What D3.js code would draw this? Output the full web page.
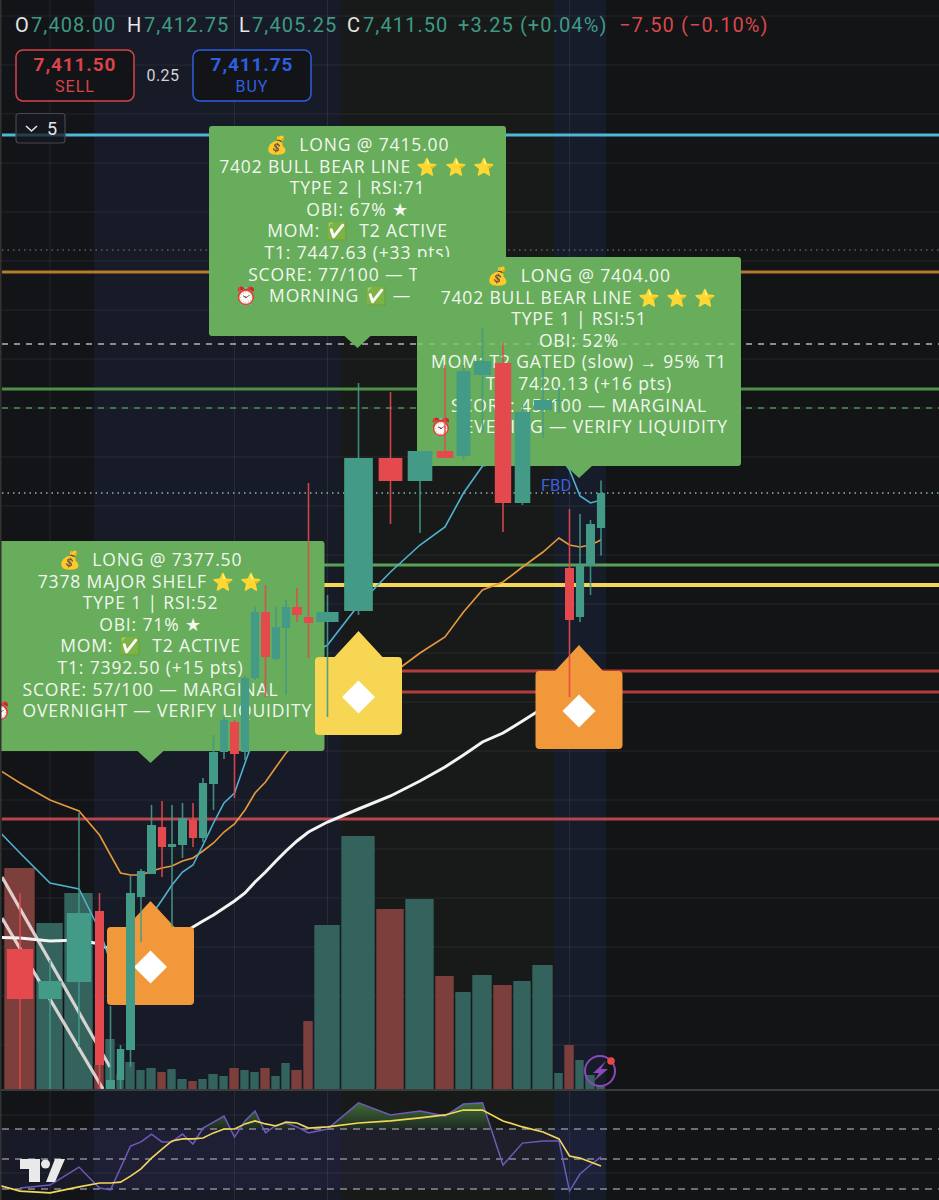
<!DOCTYPE html>
<html><head><meta charset="utf-8">
<script src="https://cdn.jsdelivr.net/npm/d3@7"></script>
<style>
html,body{margin:0;padding:0;background:#131416;}
svg{display:block;}
text{font-family:Roboto,"Noto Sans","DejaVu Sans",sans-serif;white-space:pre;}
</style></head><body><svg id="c" width="939" height="1200"></svg>
<script>
// ---------- data ----------
const priorBarDuration = 28;
const durations = [32,28,30,11,11,9,11,10,11,10,10,11,10,10,11,10,11,10,10,11,10,10,12,11,27,35,29,30,20,17,21,20,19,22,10,11,10,11,10];
const opens  = [7365.9,7360.9,7362.6,7369.7,7351.9,7352.8,7355.8,7371.1,7373.4,7378.1,7376.1,7376.3,7378.8,7377,7382.4,7385.6,7388.6,7385.6,7393,7399.6,7394.9,7398,7400.1,7399.1,7398.6,7399.7,7415,7412.7,7415.7,7415.2,7423.3,7424.5,7410.5,7419.8,7420.7,7404,7399.1,7404.2,7408];
const highs  = [7371.5,7364.8,7379.5,7371.5,7360.2,7356.3,7373.3,7373.9,7380.3,7380.7,7380.3,7380.5,7380.5,7383,7387.3,7389.3,7388.8,7393.2,7400.1,7402.3,7400.1,7400.8,7402,7412.5,7401.3,7422.5,7421.6,7415.7,7424.3,7424.3,7428,7426.5,7420.3,7424.1,7422.1,7409.9,7409.4,7408.8,7412.75];
const lows   = [7351.9,7351.9,7356.1,7351.9,7351.9,7351.9,7354.1,7366.6,7373.4,7373.1,7368.1,7375,7376.1,7376.6,7379.8,7384.9,7381,7384.8,7392.8,7391.1,7394.8,7391.3,7398.6,7395,7389.1,7399.3,7408.4,7407.5,7415,7414.8,7417.5,7407.6,7410.3,7417,7419.5,7391.1,7398.6,7401.3,7405.25];
const closes = [7360.9,7362.7,7369.5,7354.3,7352.8,7355.9,7371.5,7373.7,7378.3,7376.1,7376.4,7379,7377,7382.5,7385.6,7388.8,7385.4,7393,7399.6,7395.1,7398.1,7400.1,7399.3,7398.5,7399.6,7415,7412.7,7415.7,7415,7423.7,7424.7,7410.5,7419.6,7420.8,7420.8,7398.8,7404.3,7408.4,7411.5];
const volumes = [2210,1660,1960,240,500,150,270,190,210,170,200,100,80,100,150,130,210,190,170,210,130,260,190,680,1640,2530,1800,1900,1130,970,1140,1040,1080,1240,160,440,290,140,40];
// moving averages include the bar just left of the window
const emaFast = [7378.6,7375.5,7372.5,7371.9,7367.8,7364.6,7364.8,7366.3,7367.8,7369.3,7370.8,7372.3,7373.6,7374.3,7376.3,7378.5,7380.5,7381.5,7384.5,7387.3,7389.6,7391.8,7393.3,7394.4,7395.3,7396.3,7400.3,7403.6,7406.3,7408.1,7411.5,7414.2,7414.6,7415.8,7416.3,7415.3,7413.8,7411.2,7410.5,7410.8];
const emaMid  = [7384.4,7382.5,7380.8,7379.7,7377.3,7375.3,7373.5,7373.3,7373.3,7373.7,7374,7374.2,7374.7,7375,7375.7,7376.5,7377.6,7378.4,7379.8,7381.5,7382.6,7384.1,7385.5,7386.6,7387.8,7389.6,7391.8,7393.3,7395.5,7397.1,7399.6,7401.8,7402.6,7404.1,7405.6,7407,7406.3,7406.1,7406.3,7406.8];
const emaSlow = [7367.1,7367,7366.7,7366.8,7366.4,7365.8,7365.6,7365.6,7365.8,7366.1,7366.5,7367,7367.5,7368.1,7368.7,7369.3,7370,7370.7,7371.5,7372.6,7373.6,7374.7,7375.7,7376.7,7377.6,7378.6,7379.9,7381.2,7382.7,7384.1,7385.3,7386.6,7387.5,7388.7,7390,7390.8,7391.3,7391.8,7392.3,7392.8];
const rsi = [40.3,41.3,47.3,40.3,39.7,47,54.3,55.7,58.3,55.7,55.7,58.3,55,60.3,62.3,64.3,57.3,62.7,66,58.7,61.3,62,60.7,58.7,60,68.7,64.7,66,64.3,68.3,68.7,48,55.3,56,56,39.3,45,48,50.7];
const rsiMa = [42,39.3,38.7,40.7,42,42,42.3,44.3,46.7,50.3,53.3,56,56.7,56.7,57,58.7,60,60,61.7,62.7,61.7,61,62.3,62,60.3,60.7,62,62.7,63.7,64.7,66.3,66.3,62.7,60.7,59,56.7,51,50.3,49,47.7];
const rsiLevels = [60,50,40];
const trendLines = [[[26,7373.1],[134,7354.1]],[[26,7369],[127,7351.9]]];
const solidLevels = [[7447.3,"#4fb8d6",3],[7433.6,"#b67a2e",3],[7421.9,"#4f8f46",3],[7404.3,"#5aa257",3],[7402.3,"#f6d655",4],[7393.7,"#b53c3c",3],[7391.6,"#b53c3c",3],[7378.9,"#b6454c",3]];
const dashedLevels = [[7426.4,"#b4b4b4","6 6",1.5],[7420,"#4f8f5a","6 6",1.5],[7435.8,"#57635f","1.5 4",1.5],[7411.5,"#8fb5ad","1.5 4",1.5]];
const header = [["O","7,408.00",15,31],["H","7,412.75",127,144],["L","7,405.25",239,252],["C","7,411.50",347,363]];
const label1 = ["💰  LONG @ 7377.50","7378 MAJOR SHELF ⭐ ⭐","TYPE 1 | RSI:52","OBI: 71% ★","MOM: ✅  T2 ACTIVE","T1: 7392.50 (+15 pts)","SCORE: 57/100 — MARGINAL","⏰  OVERNIGHT — VERIFY LIQUIDITY"];
const label2 = ["💰  LONG @ 7415.00","7402 BULL BEAR LINE ⭐ ⭐ ⭐","TYPE 2 | RSI:71","OBI: 67% ★","MOM: ✅  T2 ACTIVE","T1: 7447.63 (+33 pts)","SCORE: 77/100 — TRADE","⏰  MORNING ✅ — LIQUID"];
const label3 = ["💰  LONG @ 7404.00","7402 BULL BEAR LINE ⭐ ⭐ ⭐","TYPE 1 | RSI:51","OBI: 52%","MOM: T2 GATED (slow) → 95% T1","T1: 7420.13 (+16 pts)","SCORE: 45/100 — MARGINAL","⏰  EVENING — VERIFY LIQUIDITY"];

// ---------- scales ----------
const W=939,H=1200,volBase=1089;
const svg=d3.select("#c");
const starts=[priorBarDuration]; durations.forEach(d=>starts.push(starts[starts.length-1]+d));
const total=starts[starts.length-1];
const x=d3.scaleLinear().domain([0,total]).range([-24,606]);
const centers=[priorBarDuration/2].concat(durations.map((d,i)=>starts[i]+d/2));
const y=d3.scaleLinear().domain([7460.8,7340.8]).range([0,1200]);
const yVol=d3.scaleLinear().domain([0,2530]).range([volBase,836]);
const yRsi=d3.scaleLinear().domain([60,40]).range([1129,1189]);
const up="#429a87",down="#e4494e";

const defs=svg.append("defs");
defs.append("clipPath").attr("id","main").append("rect").attr("x",2).attr("y",0).attr("width",W).attr("height",volBase);
defs.append("clipPath").attr("id","ob").append("rect").attr("x",0).attr("y",1090).attr("width",W).attr("height",yRsi(60)-1090);
const g=defs.append("linearGradient").attr("id","obg").attr("x1",0).attr("x2",0).attr("y1",0).attr("y2",1);
g.attr("gradientUnits","userSpaceOnUse").attr("y1",1103).attr("y2",1129);
g.append("stop").attr("offset",0).attr("stop-color","#3f6b35");
g.append("stop").attr("offset",1).attr("stop-color","#1e2a22");

// ---------- background ----------
svg.append("rect").attr("width",W).attr("height",H).attr("fill","#131416");
const sessions=[[0,3,"#121418"],[3,25,"#171a27"],[25,34,"#181a1a"],[34,39,"#161c2a"]];
sessions.forEach(([a,b,c])=>{
  const x0=a===0?0:x(starts[a]);
  svg.append("rect").attr("x",x0).attr("y",0).attr("width",x(starts[b])-x0).attr("height",H).attr("fill",c);
});
svg.append("rect").attr("x",0).attr("y",yRsi(60)).attr("width",x(total)).attr("height",yRsi(40)-yRsi(60)).attr("fill","rgba(110,100,230,0.08)");
const gridG=svg.append("g").attr("stroke","rgba(255,255,255,0.075)").attr("stroke-width",1);
d3.range(7380.8-4.9*5,7460,4.9).forEach(p=>gridG.append("line").attr("x1",0).attr("x2",W).attr("y1",y(p)).attr("y2",y(p)));
[1115,1173].forEach(v=>gridG.append("line").attr("x1",0).attr("x2",W).attr("y1",v).attr("y2",v));
[centers[2],centers[17],centers[25],centers[36]].forEach(c=>gridG.append("line").attr("x1",x(c)).attr("x2",x(c)).attr("y1",0).attr("y2",H));

// ---------- volume ----------
svg.append("g").selectAll("rect").data(volumes).join("rect")
 .attr("x",(d,i)=>x(starts[i])+0.3).attr("width",(d,i)=>durations[i]-1.6)
 .attr("y",d=>yVol(d)).attr("height",d=>volBase-yVol(d))
 .attr("fill",(d,i)=>closes[i]>=opens[i]?"#34625d":"#7c3f3b");

// ---------- levels, averages ----------
const mainG=svg.append("g").attr("clip-path","url(#main)");
const L=d3.line().x((d,i)=>x(centers[i])).y(d=>y(d));
solidLevels.forEach(([p,c,w])=>mainG.append("line").attr("x1",2).attr("x2",W).attr("y1",y(p)).attr("y2",y(p)).attr("stroke",c).attr("stroke-width",w));
dashedLevels.forEach(([p,c,da,w])=>mainG.append("line").attr("x1",2).attr("x2",W).attr("y1",y(p)).attr("y2",y(p)).attr("stroke",c).attr("stroke-width",w).attr("stroke-dasharray",da));
mainG.append("path").attr("d",L(emaSlow)).attr("fill","none").attr("stroke","#f4f4f4").attr("stroke-width",3);
mainG.append("path").attr("d",L(emaMid)).attr("fill","none").attr("stroke","#e79a3c").attr("stroke-width",1.6);
mainG.append("path").attr("d",L(emaFast)).attr("fill","none").attr("stroke","#4fb2d0").attr("stroke-width",1.6);

// ---------- labels ----------
function bubble(cx,tip,w,h,lines){
  const l=cx-w/2,r=cx+w/2,b=tip-12,t=b-h,rr=3;
  const gg=svg.append("g");
  gg.append("path").attr("d",`M${l+rr},${t}H${r-rr}Q${r},${t} ${r},${t+rr}V${b-rr}Q${r},${b} ${r-rr},${b}H${cx+13}L${cx},${tip}L${cx-13},${b}H${l+rr}Q${l},${b} ${l},${b-rr}V${t+rr}Q${l},${t} ${l+rr},${t}Z`).attr("fill","#67ad5b");
  lines.forEach((s,i)=>gg.append("text").attr("x",cx).attr("y",t+25+i*21.6).attr("text-anchor","middle").attr("fill","#f2f7ef").attr("font-size",17.5).attr("style","font-family:'Open Sans',Roboto,sans-serif").attr("letter-spacing",0.85).text(s));
}
bubble(x(centers[9])-1,y(7384.5),348,210,label1);
bubble(x(centers[26])-1,y(7426),297,210,label2);
bubble(x(centers[37])-1,y(7413),324,209,label3);

// the dashed level shows faintly through the last label
svg.append("line").attr("x1",417).attr("x2",741).attr("y1",y(7426.4)).attr("y2",y(7426.4)).attr("stroke","rgba(255,255,255,0.22)").attr("stroke-width",1.5).attr("stroke-dasharray","6 6");

// ---------- markers ----------
function house(cx,tipP,col){
  const tip=y(tipP),t=tip+26,bot=t+78,hw=43.5,r=4;
  const gg=svg.append("g");
  gg.append("path").attr("d",`M${cx-hw+r},${t}H${cx-24}L${cx},${tip}L${cx+24},${t}H${cx+hw-r}Q${cx+hw},${t} ${cx+hw},${t+r}V${bot-r}Q${cx+hw},${bot} ${cx+hw-r},${bot}H${cx-hw+r}Q${cx-hw},${bot} ${cx-hw},${bot-r}V${t+r}Q${cx-hw},${t} ${cx-hw+r},${t}Z`).attr("fill",col);
  const m=t+40,d=16.5;
  gg.append("path").attr("d",`M${cx},${m-d}L${cx+d},${m}L${cx},${m+d}L${cx-d},${m}Z`).attr("fill","#fff");
}
house(x(centers[9])-1,7370.7,"#f1993a");
house(x(centers[26]),7397.7,"#f7d654");
house(x(centers[37])-1,7396.3,"#f1993a");

// ---------- trend lines + candles ----------
const topG=svg.append("g").attr("clip-path","url(#main)");
trendLines.forEach(t=>topG.append("line").attr("x1",x(t[0][0])).attr("y1",y(t[0][1])).attr("x2",x(t[1][0])).attr("y2",y(t[1][1])).attr("stroke","rgba(245,232,232,0.85)").attr("stroke-width",3.2));
closes.forEach((c,i)=>{
  const o=opens[i],cx=x(starts[i]+durations[i]/2),col=c>=o?up:down,w=durations[i]*0.82;
  topG.append("line").attr("x1",cx).attr("x2",cx).attr("y1",y(highs[i])).attr("y2",y(lows[i])).attr("stroke",col).attr("stroke-width",1.6).attr("stroke-opacity",0.9);
  topG.append("rect").attr("x",cx-w/2).attr("width",w).attr("y",y(Math.max(o,c))).attr("height",Math.max(1,Math.abs(y(o)-y(c)))).attr("fill",col);
});
svg.append("text").attr("x",541).attr("y",491).attr("fill","#3d5fdc").attr("font-size",16.5).text("FBD");

// ---------- RSI ----------
svg.append("line").attr("x1",0).attr("x2",W).attr("y1",1090).attr("y2",1090).attr("stroke","#3a3b3d").attr("stroke-width",2);
const xi=(d,i)=>x(starts[i]+durations[i]/2);
svg.append("path").attr("clip-path","url(#ob)").attr("fill","url(#obg)")
  .attr("d",d3.area().x(xi).y0(yRsi(60)).y1(d=>yRsi(d))(rsi));
rsiLevels.forEach(v=>svg.append("line").attr("x1",2).attr("x2",W).attr("y1",yRsi(v)).attr("y2",yRsi(v)).attr("stroke","#8b8c96").attr("stroke-width",1.5).attr("stroke-dasharray","7 6"));
svg.append("path").attr("d",d3.line().x(xi).y(d=>yRsi(d))(rsi)).attr("fill","none").attr("stroke","#6a5cb8").attr("stroke-width",1.5);
svg.append("path").attr("d",d3.line().x((d,i)=>x(centers[i])).y(d=>yRsi(d))(rsiMa)).attr("fill","none").attr("stroke","#f3d75a").attr("stroke-width",1.6);

// logo
const logo=svg.append("g").attr("fill","#e9e9e9");
logo.append("path").attr("d","M20,1159H40V1182H29V1169H20Z");
logo.append("circle").attr("cx",45.5).attr("cy",1164).attr("r",4.5);
logo.append("path").attr("d","M55,1159H65L55,1182H46Z");

// bolt icon
const bolt=svg.append("g");
bolt.append("circle").attr("cx",600).attr("cy",1071).attr("r",15).attr("fill","none").attr("stroke","#8d49b8").attr("stroke-width",2);
bolt.append("path").attr("d","M606,1061L593,1073H599L594,1081L608,1069H601Z").attr("fill","#8d49b8");
bolt.append("circle").attr("cx",611).attr("cy",1061).attr("r",3.8).attr("fill","#e8474a");

// ---------- header ----------
const hg=svg.append("g").attr("font-size",20).attr("letter-spacing",1.1);
header.forEach(([k,v,a,b])=>{
  hg.append("text").attr("x",a).attr("y",32).attr("fill","#e6e6e6").text(k);
  hg.append("text").attr("x",b).attr("y",32).attr("fill","#3f9a83").text(v);
});
hg.append("text").attr("x",458).attr("y",32).attr("fill","#3f9a83").text("+3.25 (+0.04%)");
hg.append("text").attr("x",619).attr("y",32).attr("fill","#d9474c").text("−7.50 (−0.10%)");
function quote(xp,w,col,price,txt){
  svg.append("rect").attr("x",xp).attr("y",50).attr("width",w).attr("height",51).attr("rx",7).attr("fill","#131418").attr("stroke",col).attr("stroke-width",1.5);
  svg.append("text").attr("x",xp+w/2).attr("y",71).attr("text-anchor","middle").attr("fill",col).attr("font-size",19).attr("font-weight",700).attr("letter-spacing",0.9).text(price);
  svg.append("text").attr("x",xp+w/2).attr("y",92).attr("text-anchor","middle").attr("fill",col).attr("font-size",16).attr("letter-spacing",1).text(txt);
}
quote(16,118,"#da4349","7,411.50","SELL");
quote(193,118,"#2f5fe0","7,411.75","BUY");
svg.append("text").attr("x",163).attr("y",81).attr("text-anchor","middle").attr("fill","#d3d3d3").attr("font-size",16).attr("letter-spacing",0.5).text("0.25");
svg.append("rect").attr("x",16).attr("y",113.5).attr("width",49).attr("height",29.5).attr("rx",3).attr("fill","rgba(22,24,32,0.75)").attr("stroke","#45464a").attr("stroke-width",1.2);
svg.append("path").attr("d","M26,126L31.5,131L37,126").attr("fill","none").attr("stroke","#e4e4e4").attr("stroke-width",1.6);
svg.append("text").attr("x",47).attr("y",135).attr("fill","#e4e4e4").attr("font-size",18).text("5");
svg.append("rect").attr("x",0).attr("y",0).attr("width",1.5).attr("height",H).attr("fill","#333");
</script></body></html>
